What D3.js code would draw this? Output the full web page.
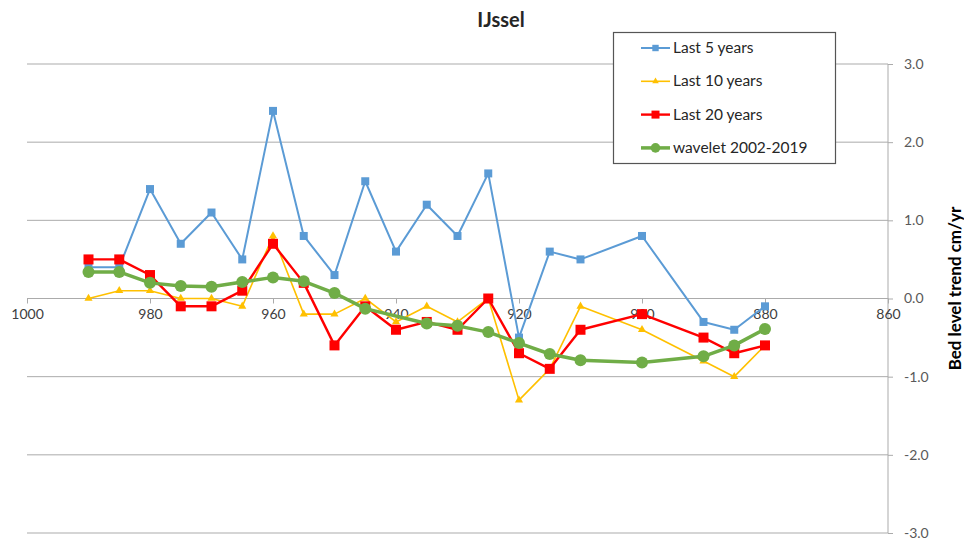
<!DOCTYPE html>
<html>
<head>
<meta charset="utf-8">
<script src="https://cdn.jsdelivr.net/npm/d3@7"></script>
<style>
  html, body { margin: 0; padding: 0; background: #fff; }
  svg { display: block; font-family: Lato, "Open Sans", sans-serif; }
</style>
</head>
<body>
<svg id="chart" width="964" height="540"></svg>
<script>
// River kilometre positions and bed level trends (cm/yr)
const kmLast5   = [990, 985, 980, 975, 970, 965, 960, 955, 950, 945, 940, 935, 930, 925, 920, 915, 910, 900, 890, 885, 880];
const last5     = [0.4, 0.4, 1.4, 0.7, 1.1, 0.5, 2.4, 0.8, 0.3, 1.5, 0.6, 1.2, 0.8, 1.6, -0.5, 0.6, 0.5, 0.8, -0.3, -0.4, -0.1];

const kmLast10  = [990, 985, 980, 975, 970, 965, 960, 955, 950, 945, 940, 935, 930, 925, 920, 915, 910, 900, 890, 885, 880];
const last10    = [0.0, 0.1, 0.1, 0.0, 0.0, -0.1, 0.8, -0.2, -0.2, 0.0, -0.3, -0.1, -0.3, 0.0, -1.3, -0.9, -0.1, -0.4, -0.8, -1.0, -0.6];

const kmLast20  = [990, 985, 980, 975, 970, 965, 960, 955, 950, 945, 940, 935, 930, 925, 920, 915, 910, 900, 890, 885, 880];
const last20    = [0.5, 0.5, 0.3, -0.1, -0.1, 0.1, 0.7, 0.2, -0.6, -0.1, -0.4, -0.3, -0.4, 0.0, -0.7, -0.9, -0.4, -0.2, -0.5, -0.7, -0.6];

const kmWavelet = [990, 985, 980, 975, 970, 965, 960, 955, 950, 945, 935, 930, 925, 920, 915, 910, 900, 890, 885, 880];
const wavelet   = [0.34, 0.34, 0.2, 0.16, 0.15, 0.21, 0.27, 0.22, 0.07, -0.13, -0.32, -0.35, -0.43, -0.57, -0.71, -0.79, -0.82, -0.74, -0.6, -0.39];

const xTicks = [1000, 980, 960, 940, 920, 900, 880, 860];
const yTicks = [-3, -2, -1, 0, 1, 2, 3];

const series = [
  { name: "Last 5 years",       km: kmLast5,   values: last5,   color: "#5B9BD5", width: 2,   marker: "square",   size: 8 },
  { name: "Last 10 years",      km: kmLast10,  values: last10,  color: "#FFC000", width: 1.6, marker: "triangle", size: 8 },
  { name: "Last 20 years",      km: kmLast20,  values: last20,  color: "#FF0000", width: 2.4, marker: "square",   size: 10 },
  { name: "wavelet 2002-2019",  km: kmWavelet, values: wavelet, color: "#70AD47", width: 3.5, marker: "circle",   size: 12 }
];

const svg = d3.select("#chart");
const plot = { left: 27, right: 888, top: 64, bottom: 533 };

const x = d3.scaleLinear().domain([1000, 860]).range([plot.left, plot.right]);
const y = d3.scaleLinear().domain([-3, 3]).range([plot.bottom, plot.top]);

const gridColor = "#ababab";
const textColor = "#595959";

// Horizontal gridlines
svg.append("g")
  .selectAll("line")
  .data(yTicks)
  .join("line")
  .attr("x1", plot.left).attr("x2", plot.right)
  .attr("y1", d => y(d)).attr("y2", d => y(d))
  .attr("stroke", gridColor).attr("stroke-width", 1);

// Right value axis (plain hyphen for negatives)
const fmt1 = d => d.toFixed(1);
const yAxis = d3.axisRight(y).tickValues(yTicks).tickFormat(fmt1).tickSize(5).tickPadding(11);
const gy = svg.append("g").attr("transform", `translate(${plot.right},0)`).call(yAxis);
gy.select(".domain").attr("stroke", gridColor).attr("d", `M0,${plot.top}V${plot.bottom}`);
gy.selectAll(".tick line").attr("stroke", gridColor);
gy.selectAll(".tick text").attr("fill", textColor).attr("font-size", 14).attr("font-family", "Lato, sans-serif");

// Category axis crossing at zero
const xAxis = d3.axisBottom(x).tickValues(xTicks).tickFormat(d => String(d)).tickSize(5).tickPadding(6);
const gx = svg.append("g").attr("transform", `translate(0,${y(0)})`).call(xAxis);
gx.select(".domain").attr("stroke", gridColor).attr("d", `M${plot.left},0H${plot.right}`);
gx.selectAll(".tick line").attr("stroke", gridColor);
gx.selectAll(".tick text").attr("fill", "#404040").attr("font-size", 14).attr("font-family", "Lato, sans-serif");

// Marker shapes
function symbolFor(s) {
  if (s.marker === "square") return d3.symbol(d3.symbolSquare, s.size * s.size);
  if (s.marker === "triangle") return d3.symbol(d3.symbolTriangle, s.size * s.size * 0.45);
  return d3.symbol(d3.symbolCircle, Math.PI * (s.size / 2) * (s.size / 2));
}

const line = d3.line().x(d => x(d[0])).y(d => y(d[1]));

series.forEach(s => {
  const pts = s.km.map((k, i) => [k, s.values[i]]);
  const g = svg.append("g");
  g.append("path")
    .datum(pts)
    .attr("d", line)
    .attr("fill", "none")
    .attr("stroke", s.color)
    .attr("stroke-width", s.width)
    .attr("stroke-linejoin", "round");
  g.selectAll("path.m")
    .data(pts)
    .join("path")
    .attr("class", "m")
    .attr("transform", d => `translate(${x(d[0])},${y(d[1])})`)
    .attr("d", symbolFor(s))
    .attr("fill", s.color);
});

// Title
svg.append("text")
  .attr("x", 501).attr("y", 27)
  .attr("text-anchor", "middle")
  .attr("font-size", 20).attr("font-weight", "bold")
  .attr("fill", "#262626")
  .text("IJssel");

// Axis title
svg.append("text")
  .attr("transform", `translate(961,${(plot.top + plot.bottom) / 2 - 10}) rotate(-90)`)
  .attr("text-anchor", "middle")
  .attr("font-size", 17).attr("font-weight", "bold")
  .attr("fill", "#000")
  .text("Bed level trend cm/yr");

// Legend
const legend = svg.append("g");
legend.append("rect")
  .attr("x", 613.5).attr("y", 32.5).attr("width", 222).attr("height", 131)
  .attr("fill", "#fff").attr("stroke", "#555").attr("stroke-width", 1.2);

series.forEach((s, i) => {
  const ly = 48 + i * 33.3;
  const row = legend.append("g");
  row.append("line")
    .attr("x1", 641).attr("x2", 670).attr("y1", ly).attr("y2", ly)
    .attr("stroke", s.color).attr("stroke-width", s.width);
  row.append("path")
    .attr("transform", `translate(655.5,${ly})`)
    .attr("d", symbolFor({ ...s, size: s.size * 0.8 }))
    .attr("fill", s.color);
  row.append("text")
    .attr("x", 673).attr("y", ly + 5)
    .attr("font-size", 15.5).attr("fill", "#262626")
    .text(s.name);
});
</script>
</body>
</html>
